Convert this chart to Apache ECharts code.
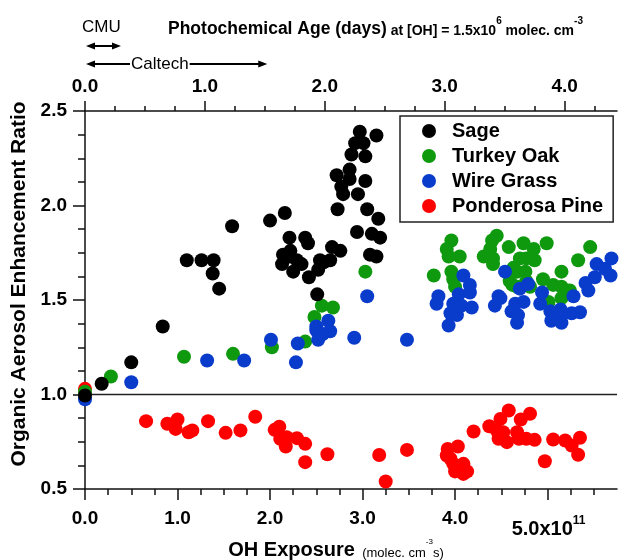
<!DOCTYPE html>
<html>
<head>
<meta charset="utf-8">
<script src="https://cdn.jsdelivr.net/npm/echarts@6/dist/echarts.min.js"></script>
<style>
  html, body { margin: 0; padding: 0; background: #fff; }
  #chart { width: 625px; height: 560px; }
</style>
</head>
<body>
<div id="chart"></div>
<script>
// Organic aerosol enhancement ratio vs. OH exposure (units of 1e11 molec. cm^-3 s)
const FONT = "'Liberation Sans', Arial, Helvetica, sans-serif";

const legendOrder = ['Sage', 'Turkey Oak', 'Wire Grass', 'Ponderosa Pine'];
const seriesColors = {
  'Sage': '#000000',
  'Turkey Oak': '#0f990f',
  'Wire Grass': '#0a3ccc',
  'Ponderosa Pine': '#ff0000'
};

// [OH exposure (x1e11), enhancement ratio]
const sage = [
  [0, 0.995], [0.18, 1.057], [0.50, 1.17], [0.84, 1.36], [1.10, 1.71], [1.26, 1.71],
  [1.39, 1.71], [1.38, 1.64], [1.45, 1.56], [1.59, 1.89], [2.00, 1.92], [2.16, 1.96],
  [2.21, 1.83], [2.38, 1.83], [2.41, 1.80], [2.22, 1.76], [2.14, 1.74], [2.13, 1.69],
  [2.21, 1.73], [2.25, 1.65], [2.34, 1.69], [2.29, 1.71], [2.42, 1.62], [2.52, 1.66],
  [2.54, 1.71], [2.58, 1.70], [2.65, 1.71], [2.67, 1.78], [2.51, 1.53], [2.72, 2.16],
  [2.77, 2.10], [2.79, 2.06], [2.73, 1.98], [2.76, 1.76], [2.97, 2.39], [3.15, 2.37],
  [2.92, 2.33], [3.01, 2.33], [2.88, 2.27], [3.03, 2.26], [2.86, 2.19], [2.86, 2.14],
  [3.03, 2.13], [2.95, 2.06], [3.05, 1.98], [3.17, 1.93], [2.94, 1.86], [3.10, 1.85],
  [3.19, 1.83], [3.08, 1.74], [3.15, 1.73]
];

const turkeyOak = [
  [0, 1.015], [0.28, 1.095], [1.07, 1.20], [1.60, 1.215], [2.02, 1.25], [2.38, 1.28],
  [2.48, 1.41], [2.56, 1.47], [2.68, 1.46], [3.03, 1.65],
  [3.96, 1.815], [3.91, 1.77], [3.93, 1.73], [4.05, 1.73], [3.77, 1.63], [3.98, 1.61],
  [4.00, 1.57], [3.96, 1.65], [4.45, 1.84], [4.40, 1.815], [4.38, 1.77], [4.31, 1.73],
  [4.41, 1.72], [4.41, 1.69], [4.58, 1.78], [4.74, 1.80], [4.85, 1.77], [4.99, 1.80],
  [4.70, 1.72], [4.86, 1.71], [4.77, 1.72], [4.67, 1.65], [4.63, 1.67], [4.59, 1.60],
  [4.62, 1.58], [4.76, 1.65], [4.77, 1.60], [4.95, 1.61], [5.15, 1.65], [5.06, 1.58],
  [5.21, 1.55], [5.15, 1.57], [5.15, 1.51], [5.01, 1.49], [5.33, 1.71], [5.46, 1.78],
  [4.81, 1.57], [4.67, 1.57], [5.24, 1.55]
];

const wireGrass = [
  [0, 0.975], [0.50, 1.065], [1.32, 1.18], [1.72, 1.18], [2.01, 1.29], [2.30, 1.27],
  [2.28, 1.17], [2.50, 1.34], [2.52, 1.29], [2.63, 1.39], [2.65, 1.335], [2.57, 1.32],
  [2.50, 1.36], [2.91, 1.30], [3.05, 1.52], [3.48, 1.29],
  [3.82, 1.52], [3.80, 1.48], [3.93, 1.365], [3.95, 1.43], [4.02, 1.42], [3.98, 1.48],
  [4.07, 1.47], [4.18, 1.46], [4.04, 1.53], [4.16, 1.54], [4.09, 1.63], [4.16, 1.58],
  [4.54, 1.65], [4.47, 1.52], [4.43, 1.47], [4.49, 1.51], [4.70, 1.56], [4.79, 1.585],
  [4.65, 1.48], [4.74, 1.49], [4.61, 1.44], [4.68, 1.42], [4.67, 1.38], [4.94, 1.54],
  [4.92, 1.48], [5.03, 1.44], [5.04, 1.39], [5.14, 1.42], [5.15, 1.38], [5.14, 1.45],
  [5.28, 1.52], [5.26, 1.43], [5.35, 1.435], [5.41, 1.59], [5.44, 1.55], [5.51, 1.62],
  [5.53, 1.69], [5.62, 1.665], [5.69, 1.72], [5.68, 1.63]
];

const ponderosaPine = [
  [0, 1.03], [0.66, 0.859], [0.89, 0.845], [1.00, 0.868], [0.98, 0.818], [1.12, 0.80],
  [1.16, 0.81], [1.33, 0.859], [1.52, 0.797], [1.68, 0.81], [1.84, 0.882], [2.05, 0.813],
  [2.10, 0.83], [2.11, 0.766], [2.18, 0.774], [2.17, 0.725], [2.29, 0.769], [2.38, 0.739],
  [2.38, 0.642], [2.62, 0.684], [3.18, 0.68], [3.25, 0.54], [3.48, 0.707], [3.92, 0.712],
  [3.91, 0.677], [3.95, 0.66], [4.03, 0.725], [3.98, 0.633], [4.09, 0.633], [4.00, 0.593],
  [4.09, 0.58], [4.13, 0.593], [4.05, 0.607], [4.20, 0.804], [4.37, 0.832], [4.45, 0.81],
  [4.49, 0.871], [4.58, 0.915], [4.47, 0.766], [4.56, 0.748], [4.52, 0.80], [4.67, 0.80],
  [4.71, 0.868], [4.81, 0.898], [4.69, 0.766], [4.77, 0.766], [4.86, 0.76], [4.97, 0.647],
  [5.06, 0.762], [5.19, 0.757], [5.26, 0.73], [5.35, 0.771], [5.33, 0.681]
];

// Axis ranges and tick values
const exposureRange = [0, 5.75];            // x1e11 molec. cm^-3 s
const exposureTicks = [0, 1, 2, 3, 4, 5];
const exposureLastTick = 5;                 // labelled with the x10^11 multiplier
const ratioRange = [0.5, 2.5];
const ratioTicks = [0.5, 1.0, 1.5, 2.0, 2.5];
const ageTicks = [0, 1, 2, 3, 4];           // days
const ohConcentration = 1.5e6;              // molec. cm^-3
const secondsPerDay = 86400;
const referenceRatio = 1.0;

// Chamber photochemical age ranges (days)
const cmuRangeDays = [0, 0.3];
const caltechRangeDays = [0, 1.52];

const ageMax = exposureRange[1] * 1e11 / (ohConcentration * secondsPerDay);

function minorValues(lo, hi, step, majors) {
  const out = [];
  const n = Math.round((hi - lo) / step);
  for (let i = 0; i <= n; i++) {
    const v = +(lo + i * step).toFixed(4);
    if (!majors.some(m => Math.abs(m - v) < 1e-6)) out.push(v);
  }
  return out;
}

const AXIS_COLOR = '#111';
const lineStyle = { color: AXIS_COLOR, width: 1.5 };

const chart = echarts.init(document.getElementById('chart'), null, { renderer: 'canvas' });

function scatterSeries(name, data) {
  return {
    name: name,
    type: 'scatter',
    xAxisIndex: 0,
    yAxisIndex: 0,
    data: data,
    symbol: 'circle',
    symbolSize: 14,
    itemStyle: { color: seriesColors[name], opacity: 1 },
    emphasis: { disabled: true },
    z: 3
  };
}

const series = [
  scatterSeries('Ponderosa Pine', ponderosaPine),
  scatterSeries('Turkey Oak', turkeyOak),
  scatterSeries('Wire Grass', wireGrass),
  scatterSeries('Sage', sage)
];
series[0].markLine = {
  silent: true,
  symbol: 'none',
  label: { show: false },
  lineStyle: { color: '#222', width: 1.3, type: 'solid' },
  data: [{ yAxis: referenceRatio }],
  z: 1
};

const tickLabelStyle = {
  fontFamily: FONT, fontSize: 19, fontWeight: 'bold', color: '#000'
};

const option = {
  animation: false,
  backgroundColor: '#fff',
  textStyle: { fontFamily: FONT },
  grid: { left: 85, right: 8, top: 111, bottom: 71, containLabel: false, outerBoundsMode: 'none' },
  title: {
    left: 163,
    top: 11,
    text: '{t|Photochemical Age (days)}{s| at [OH] = 1.5x10}{p|6}{s| molec. cm}{p|-3}',
    textStyle: {
      rich: {
        t: { fontFamily: FONT, fontSize: 17.5, fontWeight: 'bold', color: '#000', lineHeight: 22, verticalAlign: 'bottom' },
        s: { fontFamily: FONT, fontSize: 14, fontWeight: 'bold', color: '#000', lineHeight: 18, verticalAlign: 'bottom' },
        p: { fontFamily: FONT, fontSize: 10, fontWeight: 'bold', color: '#000', lineHeight: 10, verticalAlign: 'top' }
      }
    }
  },
  legend: {
    data: legendOrder,
    orient: 'vertical',
    left: 400,
    top: 116,
    padding: [5, 10, 6, 22],
    itemGap: 5,
    itemWidth: 14,
    itemHeight: 14,
    icon: 'circle',
    borderColor: '#222',
    borderWidth: 1.5,
    backgroundColor: '#fff',
    selectedMode: false,
    textStyle: {
      fontFamily: FONT, fontSize: 20, fontWeight: 'bold', color: '#000',
      lineHeight: 20, padding: [0, 0, 0, 11]
    }
  },
  xAxis: [
    {
      type: 'value',
      position: 'bottom',
      min: exposureRange[0],
      max: exposureRange[1],
      axisLine: { show: true, onZero: false, lineStyle: lineStyle },
      axisTick: { show: true, length: 11, customValues: exposureTicks, lineStyle: lineStyle },
      splitLine: { show: false },
      axisLabel: {
        show: true,
        margin: 20,
        customValues: exposureTicks,
        ...tickLabelStyle,
        // the last tick carries the exponent label, drawn separately below
        formatter: v => (v === exposureLastTick ? '' : v.toFixed(1))
      },
      name: '{a|OH Exposure}{b|  (molec. cm}{c|-3}{b|s)}',
      nameLocation: 'middle',
      nameGap: 49,
      nameTextStyle: {
        padding: [0, 30, 0, 0],
        rich: {
          a: { fontFamily: FONT, fontSize: 20, fontWeight: 'bold', color: '#000', lineHeight: 22, verticalAlign: 'bottom' },
          b: { fontFamily: FONT, fontSize: 13, color: '#000', lineHeight: 16, verticalAlign: 'bottom' },
          c: { fontFamily: FONT, fontSize: 8, color: '#000', lineHeight: 9, verticalAlign: 'top' }
        }
      }
    },
    {
      type: 'value',
      position: 'top',
      min: 0,
      max: ageMax,
      axisLine: { show: true, onZero: false, lineStyle: lineStyle },
      axisTick: { show: true, length: 10, customValues: ageTicks, lineStyle: lineStyle },
      splitLine: { show: false },
      axisLabel: {
        show: true,
        margin: 15,
        customValues: ageTicks,
        ...tickLabelStyle,
        formatter: v => v.toFixed(1)
      }
    },
    {
      type: 'value',
      position: 'bottom',
      min: exposureRange[0],
      max: exposureRange[1],
      axisLine: { show: false },
      axisTick: { show: true, length: 6, customValues: minorValues(0, 5.5, 0.25, exposureTicks), lineStyle: lineStyle },
      axisLabel: { show: false },
      splitLine: { show: false }
    },
    {
      type: 'value',
      position: 'top',
      min: 0,
      max: ageMax,
      axisLine: { show: false },
      axisTick: { show: true, length: 5, customValues: minorValues(0, 4.25, 0.25, ageTicks), lineStyle: lineStyle },
      axisLabel: { show: false },
      splitLine: { show: false }
    }
  ],
  yAxis: [
    {
      type: 'value',
      position: 'left',
      min: ratioRange[0],
      max: ratioRange[1],
      axisLine: { show: true, onZero: false, lineStyle: lineStyle },
      axisTick: { show: true, length: 12, customValues: ratioTicks, lineStyle: lineStyle },
      splitLine: { show: false },
      axisLabel: {
        show: true,
        margin: 18,
        customValues: ratioTicks,
        ...tickLabelStyle,
        formatter: v => v.toFixed(1)
      },
      name: 'Organic Aerosol Enhancement Ratio',
      nameLocation: 'middle',
      nameGap: 48,
      nameTextStyle: {
        fontFamily: FONT, fontSize: 21, fontWeight: 'bold', color: '#000',
        padding: [0, 0, 0, 32]
      }
    },
    {
      type: 'value',
      position: 'left',
      min: ratioRange[0],
      max: ratioRange[1],
      axisLine: { show: false },
      axisTick: { show: true, length: 7, customValues: minorValues(0.5, 2.5, 0.125, ratioTicks), lineStyle: lineStyle },
      axisLabel: { show: false },
      splitLine: { show: false }
    }
  ],
  series: series
};

chart.setOption(option);

// Chamber age-range arrows above the top axis, positioned on the age axis
function arrowGraphics(range, y) {
  const x0 = chart.convertToPixel({ xAxisIndex: 1 }, range[0]) + 1;
  const x1 = chart.convertToPixel({ xAxisIndex: 1 }, range[1]);
  const head = 9, half = 3.5;
  return [
    { type: 'line', shape: { x1: x0 + head - 1, y1: y, x2: x1 - head + 1, y2: y },
      style: { stroke: '#000', lineWidth: 2 }, silent: true },
    { type: 'polygon', shape: { points: [[x0, y], [x0 + head, y - half], [x0 + head, y + half]] },
      style: { fill: '#000' }, silent: true },
    { type: 'polygon', shape: { points: [[x1, y], [x1 - head, y - half], [x1 - head, y + half]] },
      style: { fill: '#000' }, silent: true }
  ];
}

const caltechStart = chart.convertToPixel({ xAxisIndex: 1 }, caltechRangeDays[0]);
const lastTickX = chart.convertToPixel({ xAxisIndex: 0 }, exposureLastTick);
const graphics = []
  .concat(arrowGraphics(cmuRangeDays, 46))
  .concat(arrowGraphics(caltechRangeDays, 64))
  .concat([
    { type: 'text', x: caltechStart - 3, y: 27, silent: true,
      style: { text: 'CMU', font: '17px ' + FONT, fill: '#000', verticalAlign: 'middle', align: 'left' } },
    { type: 'text', x: caltechStart + 45, y: 64, silent: true, z: 10,
      style: { text: 'Caltech', font: '17px ' + FONT, fill: '#000', verticalAlign: 'middle', align: 'left',
               backgroundColor: '#fff', padding: [0, 1, 0, 1] } },
    // exponent label of the bottom axis, centred on its tick
    { type: 'text', x: lastTickX + 1, y: 515, silent: true,
      style: {
        text: '{m|' + exposureLastTick.toFixed(1) + 'x10}{p|11}',
        align: 'center', verticalAlign: 'top',
        rich: {
          m: { font: 'bold 20px ' + FONT, fill: '#000', lineHeight: 24, verticalAlign: 'bottom' },
          p: { font: 'bold 12px ' + FONT, fill: '#000', lineHeight: 12, verticalAlign: 'top' }
        }
      } }
  ]);

chart.setOption({ graphic: graphics });
</script>
</body>
</html>
